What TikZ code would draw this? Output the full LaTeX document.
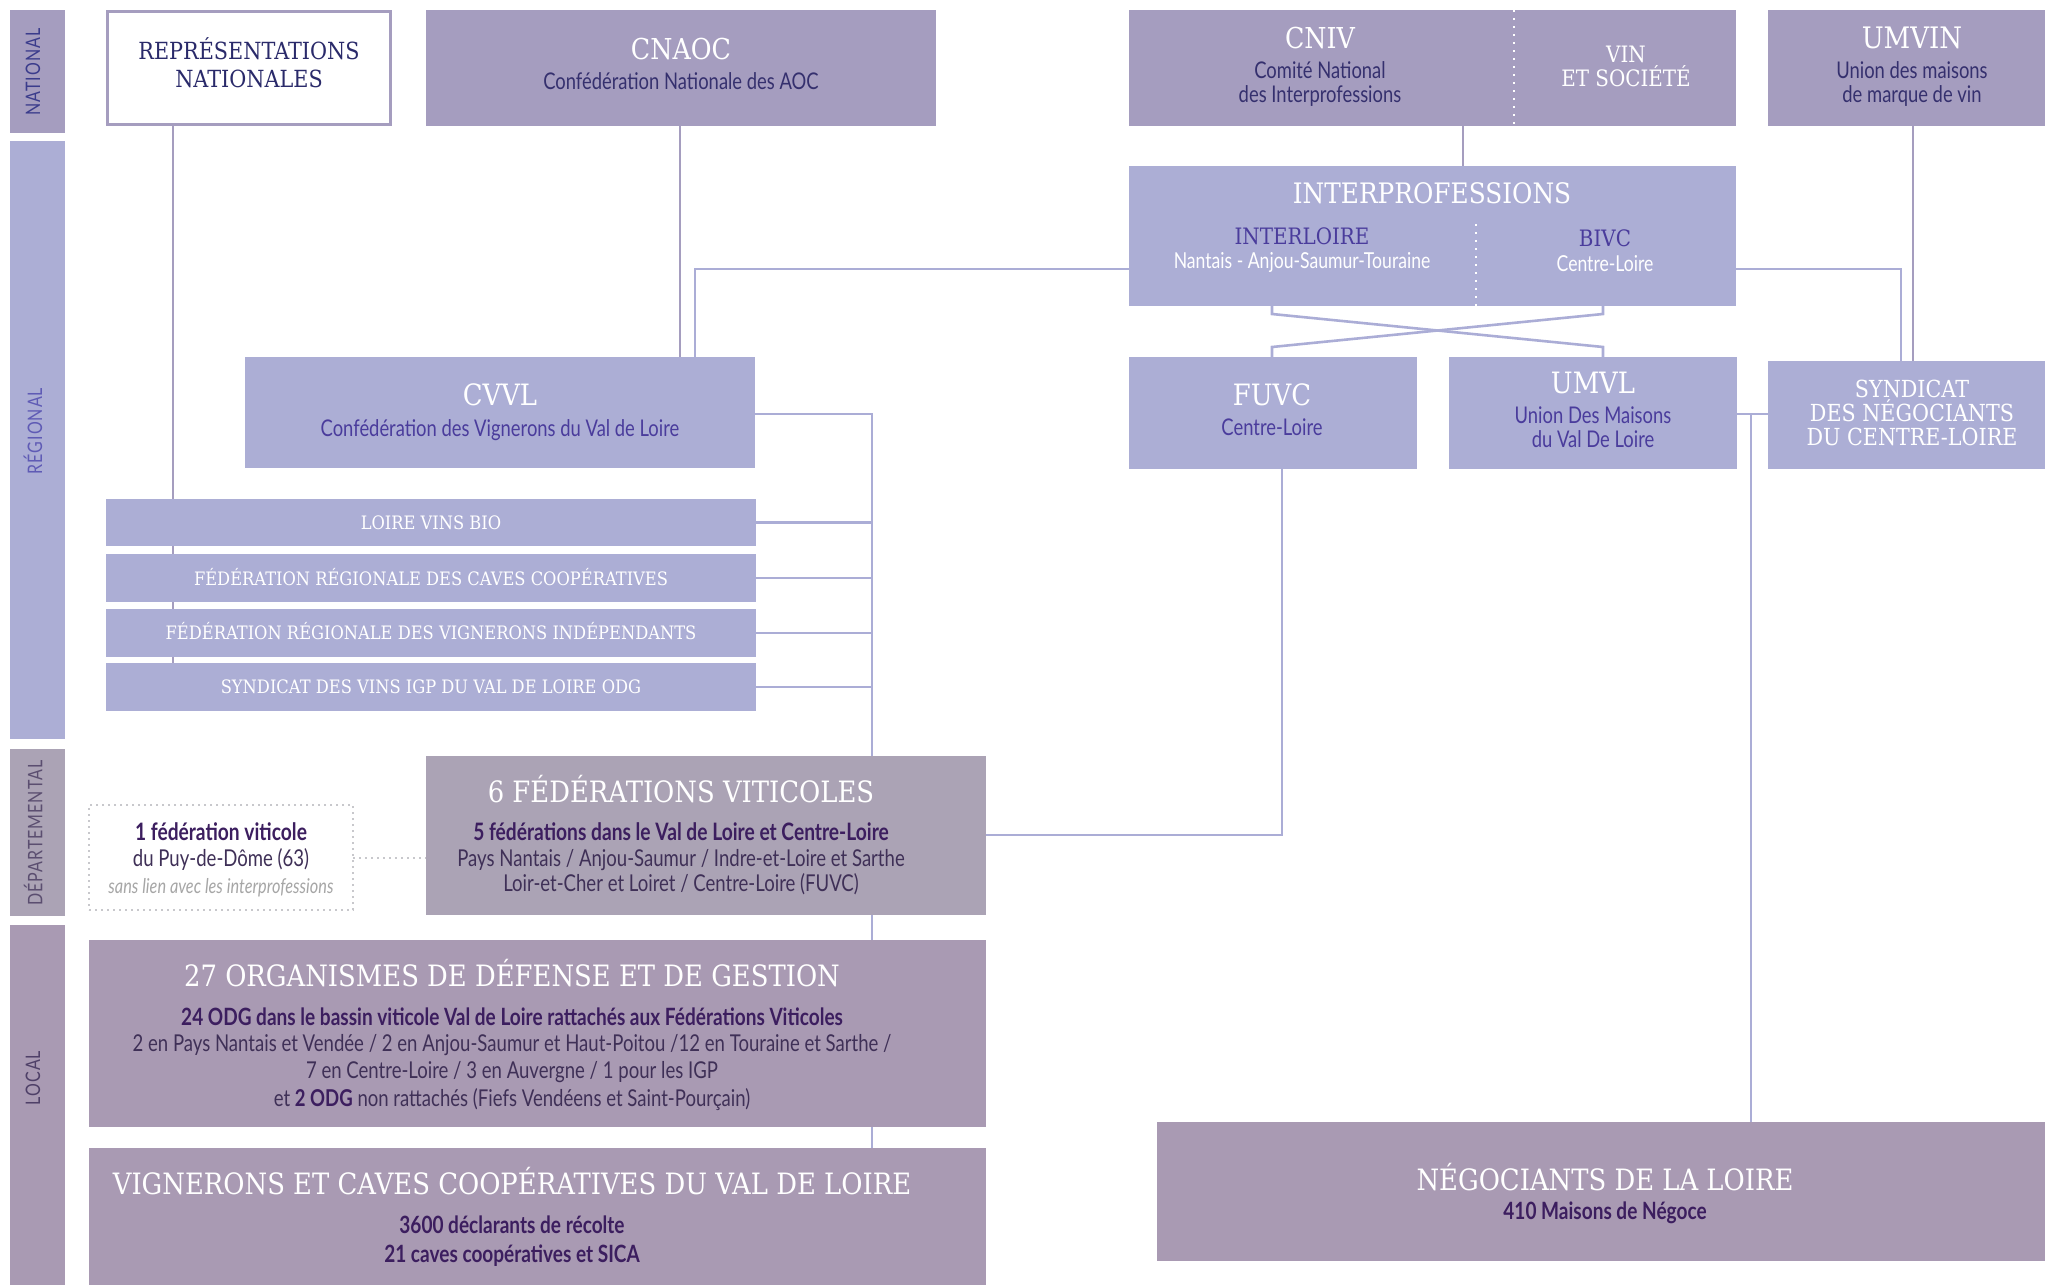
\documentclass[tikz,border=0pt]{standalone}
\usepackage{fontspec}
\setmainfont{DejaVu Serif}
\newfontfamily\hf[FakeStretch=0.88]{DejaVu Serif}
\newfontfamily\subf[FakeStretch=0.8]{Lato}
\newfontfamily\sidef[FakeStretch=0.8,LetterSpace=5]{Lato}
\usetikzlibrary{calc}
\pgfdeclarelayer{bg}
\pgfsetlayers{bg,main}
\definecolor{natc}{HTML}{A59DBF}
\definecolor{regc}{HTML}{ACAED5}
\definecolor{depc}{HTML}{ABA3B5}
\definecolor{locc}{HTML}{A99AB3}
\definecolor{ink}{HTML}{35306E}
\definecolor{viol}{HTML}{4A3C9C}
\definecolor{plum}{HTML}{3C1E5F}
\definecolor{plumr}{HTML}{3F3057}
\definecolor{reprc}{HTML}{2A2A6A}
\definecolor{linec}{HTML}{ABADD6}
\definecolor{dotg}{HTML}{C8C8CC}
\definecolor{sideN}{HTML}{3B3C8C}
\definecolor{sideR}{HTML}{5F5BB5}
\definecolor{sideD}{HTML}{5B4E70}
\definecolor{sideL}{HTML}{4F4068}
\newcommand\HF[1]{\hf\fontsize{#1pt}{#1pt}\selectfont}
\newcommand\SF[1]{\subf\fontsize{#1pt}{#1pt}\selectfont}
\newcommand\mybox[6]{\node[#6, anchor=north west, inner sep=0pt, outer sep=0pt,
  minimum width={(#4-#2)*0.5pt}, minimum height={(#5-#3)*0.5pt}] (#1) at (#2,#3) {};}
\tikzset{
  tx/.style={anchor=base, inner sep=0pt, outer sep=0pt},
  sidetx/.style={anchor=center, inner sep=0pt, rotate=90, font=\sidef\fontsize{10pt}{10pt}\selectfont},
  ln/.style={draw=linec, line width=1.3pt},
  nln/.style={draw=natc, line width=1.3pt},
  wdot/.style={draw=white, line width=1.2pt, dash pattern=on 1.2pt off 2.8pt},
  gdot/.style={draw=dotg, line width=1pt, dash pattern=on 1pt off 2pt},
}
\begin{document}
\begin{tikzpicture}[x=0.5pt, y=-0.5pt]
\useasboundingbox (0,0) rectangle (2045,1285);
% sidebars
\mybox{sN}{10}{10}{65}{133}{fill=natc}
\mybox{sR}{10}{141}{65}{739}{fill=regc}
\mybox{sD}{10}{749}{65}{916}{fill=depc}
\mybox{sL}{10}{925}{65}{1285}{fill=locc}
\node[sidetx, text=sideN] (sNt) at (33,72) {NATIONAL};
\node[sidetx, text=sideR] (sRt) at (33,431) {RÉGIONAL};
\node[sidetx, text=sideD] (sDt) at (33,833) {DÉPARTEMENTAL};
\node[sidetx, text=sideL] (sLt) at (33,1078) {LOCAL};
% national
\mybox{repr}{107.5}{11.5}{390.5}{124.5}{fill=white, draw=natc, line width=1.5pt}
\mybox{cnaoc}{426}{10}{936}{126}{fill=natc}
\mybox{cniv}{1129}{10}{1514}{126}{fill=natc}
\mybox{vin}{1514}{10}{1736}{126}{fill=natc}
\mybox{umvin}{1768}{10}{2045}{126}{fill=natc}
\draw[wdot] (cniv.north east) -- (cniv.south east);
\node[tx, font=\HF{11.8}, text=reprc] (t1) at (249,59) {REPRÉSENTATIONS};
\node[tx, font=\HF{11.8}, text=reprc] (t2) at (249,87) {NATIONALES};
\node[tx, font=\HF{14.4}, text=white] (t3) at (681,59) {CNAOC};
\node[tx, font=\SF{11.5}, text=ink] (t4) at (681,89) {Confédération Nationale des AOC};
\node[tx, font=\HF{14.4}, text=white] (t5) at (1320,48) {CNIV};
\node[tx, font=\SF{11.5}, text=ink] (t6) at (1320,78) {Comité National};
\node[tx, font=\SF{11.5}, text=ink] (t7) at (1320,102) {des Interprofessions};
\node[tx, font=\HF{11.3}, text=white] (t8) at (1626,62) {VIN};
\node[tx, font=\HF{11.3}, text=white] (t9) at (1626,86) {ET SOCIÉTÉ};
\node[tx, font=\HF{14.8}, text=white] (t10) at (1912,48) {UMVIN};
\node[tx, font=\SF{11.5}, text=ink] (t11) at (1912,78) {Union des maisons};
\node[tx, font=\SF{11.5}, text=ink] (t12) at (1912,102) {de marque de vin};
% regional
\mybox{interprof}{1129}{166}{1736}{306}{fill=regc}
\draw[wdot] (1476,224) -- (1476,306);
\node[tx, font=\HF{14.1}, text=white] (t13) at (1432,203) {INTERPROFESSIONS};
\node[tx, font=\HF{11.3}, text=viol] (t14) at (1302,244) {INTERLOIRE};
\node[tx, font=\SF{11}, text=white] (t15) at (1302,268) {Nantais - Anjou-Saumur-Touraine};
\node[tx, font=\HF{11.3}, text=viol] (t16) at (1605,246) {BIVC};
\node[tx, font=\SF{11}, text=white] (t17) at (1605,271) {Centre-Loire};
\mybox{cvvl}{245}{357}{755}{468}{fill=regc}
\mybox{fuvc}{1129}{357}{1417}{469}{fill=regc}
\mybox{umvl}{1449}{357}{1737}{469}{fill=regc}
\mybox{syndicat}{1768}{361}{2045}{469}{fill=regc}
\node[tx, font=\HF{14.7}, text=white] (t18) at (500,405) {CVVL};
\node[tx, font=\SF{11.5}, text=viol] (t19) at (500,436) {Confédération des Vignerons du Val de Loire};
\node[tx, font=\HF{14.7}, text=white] (t20) at (1272,405) {FUVC};
\node[tx, font=\SF{11.5}, text=viol] (t21) at (1272,435) {Centre-Loire};
\node[tx, font=\HF{14.7}, text=white] (t22) at (1593,393) {UMVL};
\node[tx, font=\SF{11.5}, text=viol] (t23) at (1593,423) {Union Des Maisons};
\node[tx, font=\SF{11.5}, text=viol] (t24) at (1593,447) {du Val De Loire};
\node[tx, font=\HF{11.75}, text=white] (t25) at (1912,397) {SYNDICAT};
\node[tx, font=\HF{11.75}, text=white] (t26) at (1912,421) {DES NÉGOCIANTS};
\node[tx, font=\HF{11.75}, text=white] (t27) at (1912,445) {DU CENTRE-LOIRE};
\mybox{bio}{106}{499}{756}{546}{fill=regc}
\mybox{cav}{106}{554}{756}{602}{fill=regc}
\mybox{vig}{106}{609}{756}{657}{fill=regc}
\mybox{igp}{106}{663}{756}{711}{fill=regc}
\node[tx, font=\HF{9.25}, text=white] (t28) at (431,529) {LOIRE VINS BIO};
\node[tx, font=\HF{9.25}, text=white] (t29) at (431,585) {FÉDÉRATION RÉGIONALE DES CAVES COOPÉRATIVES};
\node[tx, font=\HF{9.25}, text=white] (t30) at (431,639) {FÉDÉRATION RÉGIONALE DES VIGNERONS INDÉPENDANTS};
\node[tx, font=\HF{9.25}, text=white] (t31) at (431,693) {SYNDICAT DES VINS IGP DU VAL DE LOIRE ODG};
% departemental
\mybox{fed6}{426}{756}{986}{915}{fill=depc}
\mybox{fed1}{89}{805}{353}{910}{fill=white, gdot}
\node[tx, font=\HF{14.7}, text=white] (t32) at (681,802) {6 FÉDÉRATIONS VITICOLES};
\node[tx, font=\SF{12}\bfseries, text=plum] (t33) at (681,840) {5 fédérations dans le Val de Loire et Centre-Loire};
\node[tx, font=\SF{11.6}, text=plumr] (t34) at (681,866) {Pays Nantais / Anjou-Saumur / Indre-et-Loire et Sarthe};
\node[tx, font=\SF{11.6}, text=plumr] (t35) at (681,891) {Loir-et-Cher et Loiret / Centre-Loire (FUVC)};
\node[tx, font=\SF{12}\bfseries, text=plum] (t36) at (221,840) {1 fédération viticole};
\node[tx, font=\SF{11.6}, text=plumr] (t37) at (221,866) {du Puy-de-Dôme (63)};
\node[tx, font=\SF{10.2}\itshape, text=gray!70] (t38) at (221,893) {sans lien avec les interprofessions};
% local
\mybox{odg}{89}{940}{986}{1127}{fill=locc}
\mybox{vign}{89}{1148}{986}{1285}{fill=locc}
\mybox{negoc}{1157}{1122}{2045}{1261}{fill=locc}
\node[tx, font=\HF{14.7}, text=white] (t39) at (512,986) {27 ORGANISMES DE DÉFENSE ET DE GESTION};
\node[tx, font=\SF{11.9}\bfseries, text=plum] (t40) at (512,1025) {24 ODG dans le bassin viticole Val de Loire rattachés aux Fédérations Viticoles};
\node[tx, font=\SF{11.6}, text=plumr] (t41) at (512,1051) {2 en Pays Nantais et Vendée / 2 en Anjou-Saumur et Haut-Poitou /12 en Touraine et Sarthe /};
\node[tx, font=\SF{11.6}, text=plumr] (t42) at (512,1078) {7 en Centre-Loire / 3 en Auvergne / 1 pour les IGP};
\node[tx, font=\SF{11.6}, text=plumr] (t43) at (512,1106) {et {\bfseries\color{plum}2 ODG} non rattachés (Fiefs Vendéens et Saint-Pourçain)};
\node[tx, font=\HF{14.7}, text=white] (t44) at (512,1194) {VIGNERONS ET CAVES COOPÉRATIVES DU VAL DE LOIRE};
\node[tx, font=\SF{11.9}\bfseries, text=plum] (t45) at (512,1233) {3600 déclarants de récolte};
\node[tx, font=\SF{11.9}\bfseries, text=plum] (t46) at (512,1262) {21 caves coopératives et SICA};
\node[tx, font=\HF{14.7}, text=white] (t47) at (1605,1190) {NÉGOCIANTS DE LA LOIRE};
\node[tx, font=\SF{11.9}\bfseries, text=plum] (t48) at (1605,1219) {410 Maisons de Négoce};
% reference coordinates
\coordinate (x173) at (173,0);
\coordinate (x680) at (680,0);
\coordinate (x695) at (695,0);
\coordinate (x1463) at (1463,0);
\coordinate (x1913) at (1913,0);
\coordinate (x1901) at (1901,0);
\coordinate (x1272) at (1272,0);
\coordinate (x1603) at (1603,0);
\coordinate (x872) at (872,0);
\coordinate (x1282) at (1282,0);
\coordinate (x1751) at (1751,0);
\coordinate (y269) at (0,269);
\coordinate (y314) at (0,314);
\coordinate (y347) at (0,347);
\coordinate (y414) at (0,414);
\coordinate (y835) at (0,835);
% connectors
\begin{pgfonlayer}{bg}
\draw[nln] (repr.south -| x173) -- (igp.north -| x173);
\draw[nln] (cnaoc.south -| x680) -- (cvvl.north -| x680);
\draw[ln] (interprof.west |- y269) -- (x695 |- y269) -- (cvvl.north -| x695);
\draw[nln] (cniv.south -| x1463) -- (interprof.north -| x1463);
\draw[nln] (umvin.south -| x1913) -- (syndicat.north -| x1913);
\draw[ln] (interprof.east |- y269) -- (x1901 |- y269) -- (syndicat.north -| x1901);
\draw[ln] (interprof.south -| x1272) -- (x1272 |- y314) -- (x1603 |- y347) -- (umvl.north -| x1603);
\draw[ln] (interprof.south -| x1603) -- (x1603 |- y314) -- (x1272 |- y347) -- (fuvc.north -| x1272);
\draw[ln] (cvvl.east |- y414) -- (x872 |- y414) -- (fed6.north -| x872);
\foreach \b in {bio,cav,vig,igp} \draw[ln] (\b.east) -- (\b.east -| x872);
\draw[ln] (fuvc.south -| x1282) -- (x1282 |- y835) -- (fed6.east |- y835);
\draw[ln] (fed6.south -| x872) -- (odg.north -| x872);
\draw[ln] (odg.south -| x872) -- (vign.north -| x872);
\draw[gdot] (fed1.east) -- (fed1.east -| fed6.west);
\draw[ln] (umvl.east |- y414) -- (syndicat.west |- y414);
\draw[ln] (x1751 |- y414) -- (negoc.north -| x1751);
\end{pgfonlayer}
\end{tikzpicture}
\end{document}
